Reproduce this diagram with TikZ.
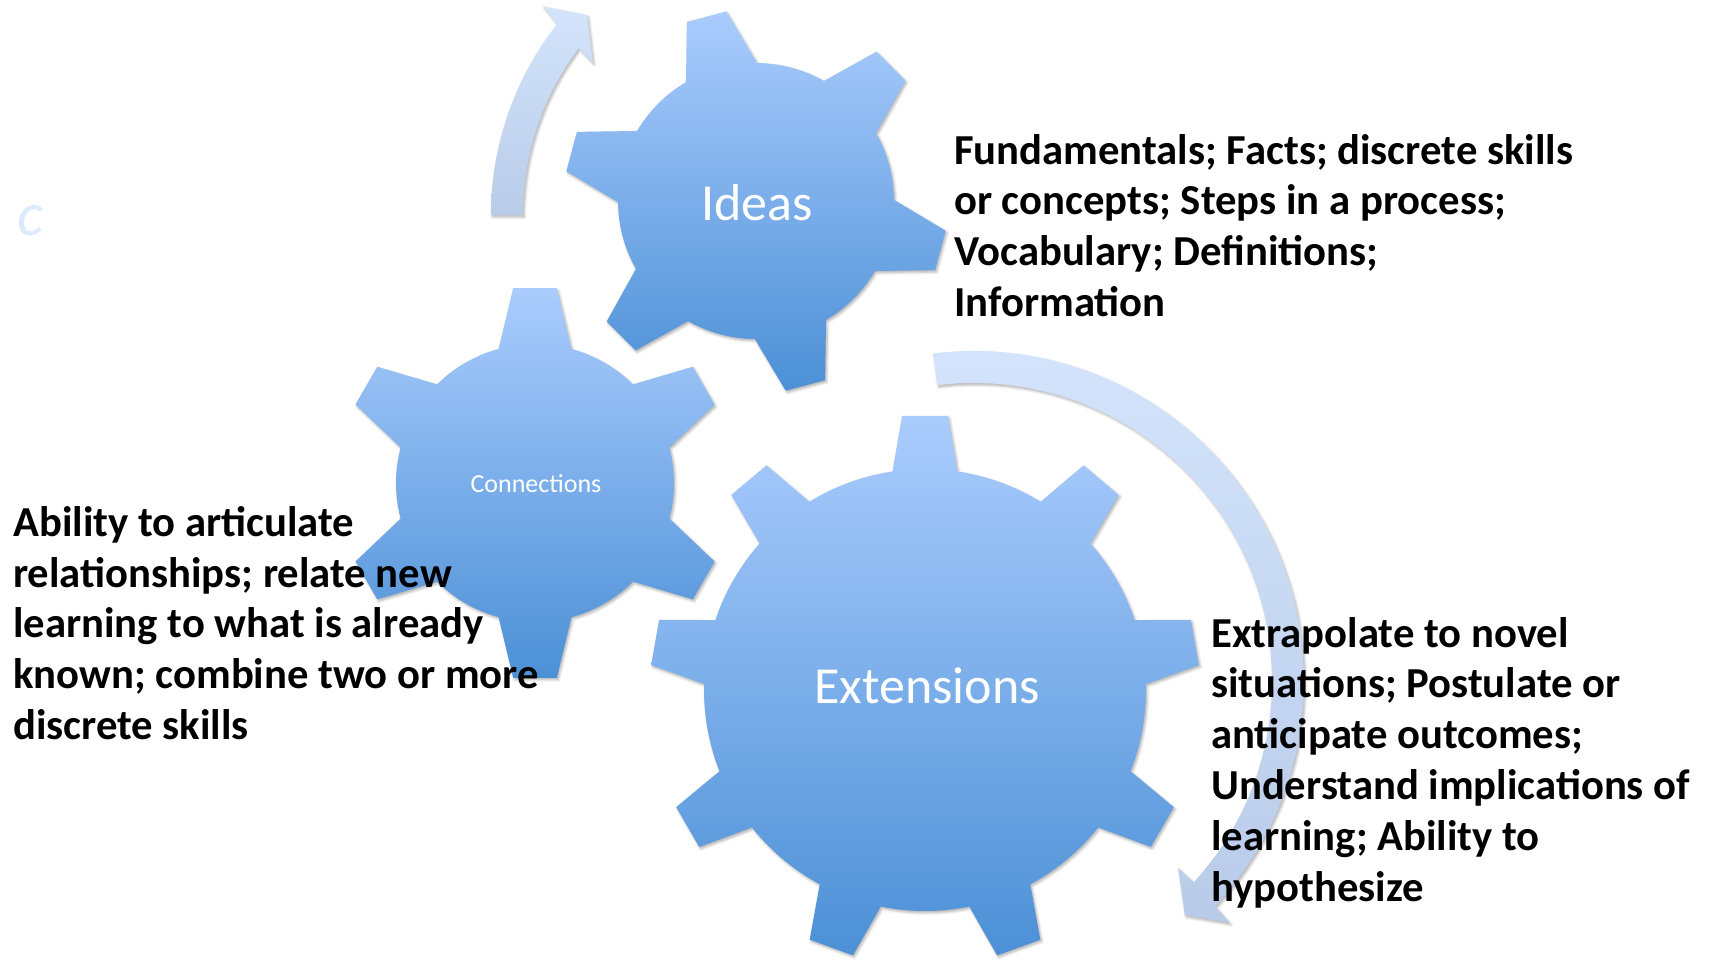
\documentclass[tikz,border=0pt]{standalone}
\usepackage{fontspec}
\setmainfont{Carlito}
\usetikzlibrary{shadows.blur}

\definecolor{gearlight}{RGB}{170,204,253}
\definecolor{geardark}{RGB}{76,144,214}
\definecolor{arrowlight}{RGB}{212,228,252}
\definecolor{arrowdark}{RGB}{184,203,232}

\tikzset{
  softshadow/.style={blur shadow={shadow xshift=1.5pt, shadow yshift=-2pt, shadow blur radius=2.5pt, shadow opacity=30}},
  gear/.style={top color=gearlight, bottom color=geardark, softshadow},
  bendarrow/.style={top color=arrowlight, bottom color=arrowdark, softshadow},
  gearlabel/.style={text=white, inner sep=0pt},
  note/.style={anchor=north west, align=left, inner sep=0pt, font=\bfseries\fontsize{42.7}{50.8}\selectfont},
}

% gear: centre, teeth, body radius, tip radius, first tooth, base half-angle, tip half-angle
\newcommand{\gearshape}[7]{%
  \pgfmathtruncatemacro{\glast}{#2-1}%
  \pgfmathsetmacro{\gstep}{360/#2}%
  \path[gear, shift={(#1)}] ({#5-#6}:#3)
    \foreach \k in {0,...,\glast}{
      -- ({#5+\k*\gstep-#6}:#3) -- ({#5+\k*\gstep-#7}:#4)
      -- ({#5+\k*\gstep+#7}:#4) -- ({#5+\k*\gstep+#6}:#3)
      arc[start angle={#5+\k*\gstep+#6}, delta angle={\gstep-2*#6}, radius=#3]
    } -- cycle;
}

\begin{document}
\begin{tikzpicture}[x=1pt, y=-1pt]
	\useasboundingbox (0,0) rectangle (1714,959);

	\coordinate (cI) at (756,201);
	\coordinate (cC) at (535,483);
	\coordinate (cE) at (925,690);
	\coordinate (cA) at (800,215);
	\coordinate (cB) at (974,681);

	% curved arrows
	\path[bendarrow] ([shift={(180:309)}]cA) arc[start angle=180, end angle=218.2, radius=309]
		-- ([shift={(219.1:331)}]cA) -- ([shift={(223.2:292)}]cA) -- ([shift={(216.3:257)}]cA)
		-- ([shift={(217:277)}]cA) arc[start angle=217, end angle=180, radius=277] -- cycle;
	\path[bendarrow] ([shift={(262.9:330)}]cB) arc[start angle=262.9, end angle=403.05, radius=330]
		-- ([shift={(403.4:352)}]cB) -- ([shift={(408:315)}]cB) -- ([shift={(402.5:277)}]cB)
		-- ([shift={(402.5:298)}]cB) arc[start angle=402.5, end angle=262.9, radius=298] -- cycle;

	% gears
	\gearshape{cI}{6}{138}{192}{15}{15.5}{6.1}
	\gearshape{cC}{6}{139}{196}{30}{15.2}{6.4}
	\gearshape{cE}{9}{221}{275}{30}{8.45}{4.8}

	\node[gearlabel, font=\fontsize{52}{60}\selectfont] (ideas) at (757,203) {Ideas};
	\node[gearlabel, font=\fontsize{26}{30}\selectfont] (connections) at (536,484) {Connections};
	\node[gearlabel, font=\fontsize{52}{60}\selectfont] (extensions) at (927,686) {Extensions};

	\node[text=arrowlight!80, font=\itshape\fontsize{62}{62}\selectfont] (stray) at (30,221) {c};

	% descriptions
	\node[note] (ideasnote) at (954,134) {Fundamentals; Facts; discrete skills\\or concepts; Steps in a process;\\Vocabulary; Definitions;\\Information};
	\node[note] (connnote) at (13,506) {Ability to articulate\\relationships; relate new\\learning to what is already\\known; combine two or more\\discrete skills};
	\node[note] (extnote) at (1211,617) {Extrapolate to novel\\situations; Postulate or\\anticipate outcomes;\\Understand implications of\\learning; Ability to\\hypothesize};
\end{tikzpicture}
\end{document}
